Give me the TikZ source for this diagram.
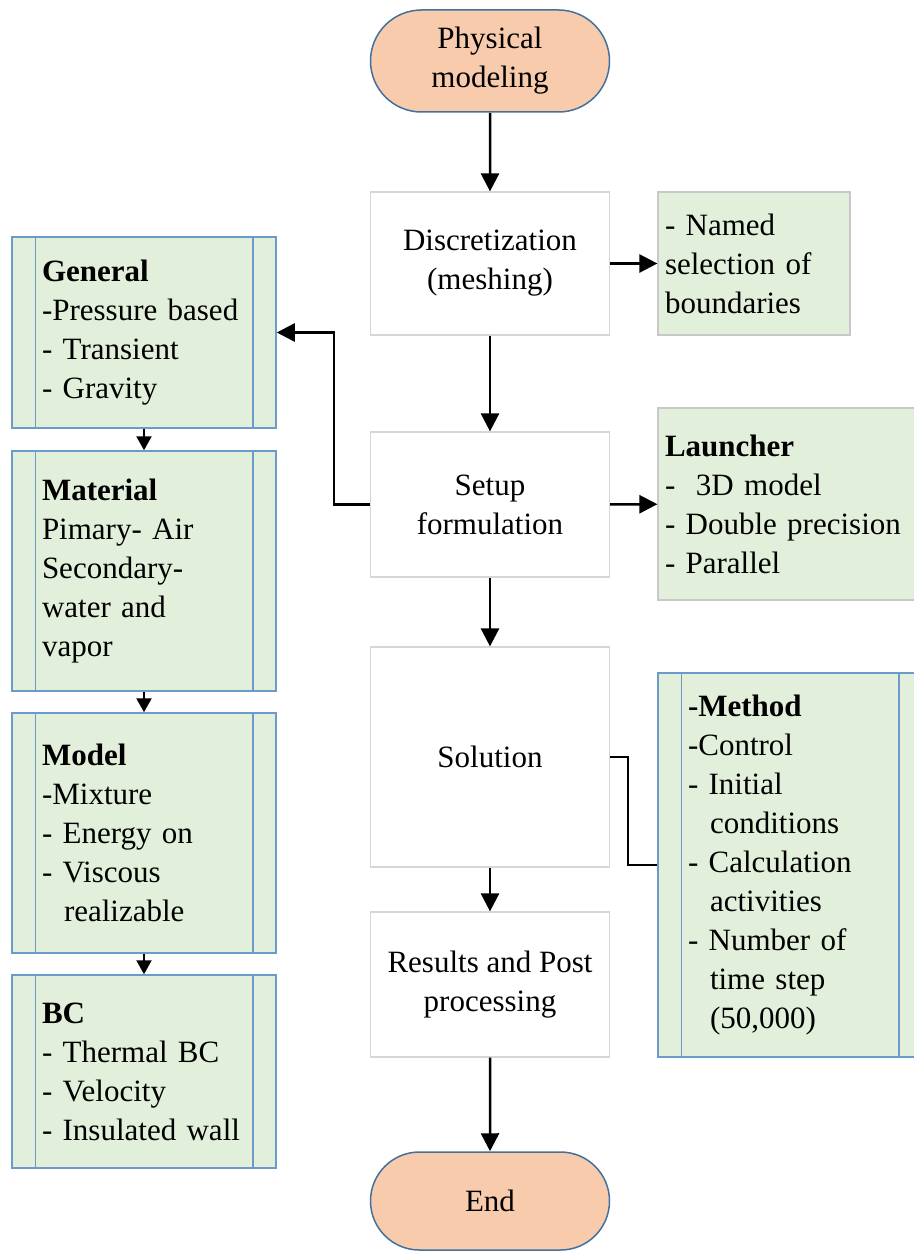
\documentclass[tikz,border=0pt]{standalone}
\usepackage{fontspec}
\setmainfont{Liberation Serif}
\usetikzlibrary{arrows.meta,shapes.misc}
\definecolor{termfill}{HTML}{F8CBAD}
\definecolor{termline}{HTML}{41719C}
\definecolor{boxline}{HTML}{D6D6D6}
\definecolor{notefill}{HTML}{E2EFDA}
\definecolor{noteline}{HTML}{C8C8C8}
\definecolor{panelline}{HTML}{6A9BCB}

\begin{document}
\begin{tikzpicture}[x=1pt, y=-1pt, font=\fontsize{31}{39}\selectfont,
			every node/.style={inner sep=0pt},
			term/.style={rounded rectangle, draw=termline, fill=termfill, line width=1.5pt, minimum width=239pt, align=center},
			stepbox/.style={rectangle, draw=boxline, fill=white, line width=1.2pt, minimum width=239pt, align=center},
			note/.style={rectangle, draw=noteline, fill=notefill, line width=1.2pt, align=left, inner xsep=7pt},
			panel/.style={rectangle, draw=panelline, fill=notefill, line width=1.5pt, text width=204pt, inner xsep=30pt, align=left},
			flow/.style={-{Triangle[length=18pt,width=18pt]}, line width=2.5pt},
			chain/.style={-{Triangle[length=14pt,width=15pt]}, line width=2.2pt},
			link/.style={line width=1.6pt}]
			\useasboundingbox (0,0) rectangle (913,1252);
			\node[term, minimum height=102pt] (start) at (490,61) {Physical\\modeling};
			\node[stepbox, minimum height=143pt] (disc) at (490,263.5) {Discretization\\(meshing)};
			\node[stepbox, minimum height=145pt] (setup) at (490,504.5) {Setup\\formulation};
			\node[stepbox, minimum height=220pt] (solution) at (490,757) {Solution};
			\node[stepbox, minimum height=145pt] (results) at (490,984.5) {Results and Post\\processing};
			\node[term, minimum height=98pt] (end) at (490,1201) {End};
			\node[note, text width=178pt, minimum height=143pt] (named) at (754,263.5) {- Named\\selection of\\boundaries};
			\node[note, text width=250pt, minimum height=192pt] (launch) at (790,504) {\textbf{Launcher}\\-\ \ 3D model\\- Double precision\\- Parallel};
			\node[panel, minimum height=384pt] (method) at (790,865) {\textbf{-Method}\\-Control\\- Initial\\\hspace*{22pt}conditions\\- Calculation\\\hspace*{22pt}activities\\- Number of\\\hspace*{22pt}time step\\\hspace*{22pt}(50,000)};
			\node[panel, minimum height=191pt] (general) at (144,332.5) {\textbf{General}\\-Pressure based\\- Transient\\- Gravity};
			\node[panel, minimum height=240pt] (material) at (144,571) {\textbf{Material}\\Pimary- Air\\Secondary-\\water and\\vapor};
			\node[panel, minimum height=240pt] (model) at (144,833) {\textbf{Model}\\-Mixture\\- Energy on\\- Viscous\\\hspace*{22pt}realizable};
			\node[panel, minimum height=193pt] (bc) at (144,1071.5) {\textbf{BC}\\- Thermal BC\\- Velocity\\- Insulated wall};
			\foreach \p in {general, material, model, bc, method} {
				\draw[panelline, line width=1.5pt] ([xshift=24pt]\p.north west) -- ([xshift=24pt]\p.south west);
				\draw[panelline, line width=1.5pt] ([xshift=-24pt]\p.north east) -- ([xshift=-24pt]\p.south east);
			}
			\draw[flow] (start) -- (disc);
			\draw[flow] (disc) -- (named);
			\draw[flow] (disc) -- (setup);
			\draw[flow] (setup) -- (launch);
			\draw[flow] (setup.west) -- ++(-36,0) |- (general.east);
			\draw[flow] (setup) -- (solution);
			\draw[link] (solution.east) -- ++(18,0) |- (method.west);
			\draw[flow] (solution) -- (results);
			\draw[flow] (results) -- (end);
			\draw[chain] (general) -- (material);
			\draw[chain] (material) -- (model);
			\draw[chain] (model) -- (bc);
		\end{tikzpicture}
\end{document}
